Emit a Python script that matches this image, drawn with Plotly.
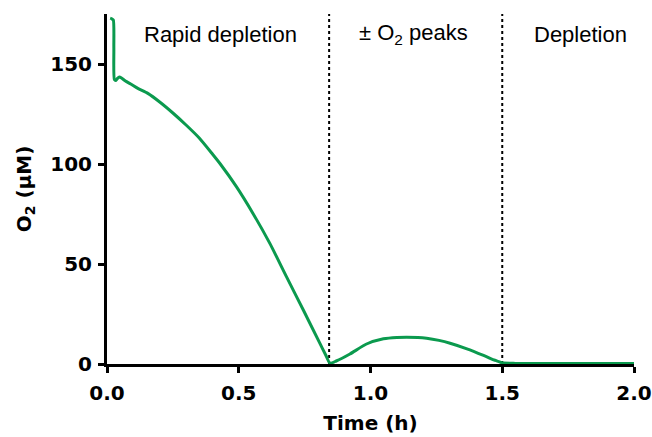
import plotly.graph_objects as go

# Data
time_h = [0.012, 0.018, 0.024, 0.026, 0.028, 0.034, 0.040, 0.047, 0.055, 0.07, 0.09,
          0.117, 0.155, 0.2, 0.25, 0.3, 0.35, 0.4, 0.43, 0.491, 0.554, 0.618, 0.681,
          0.745, 0.808, 0.83, 0.846, 0.87, 0.922, 0.985, 1.049, 1.1, 1.137, 1.18,
          1.213, 1.26, 1.302, 1.366, 1.429, 1.47, 1.499, 1.55, 1.7, 1.85, 2.0]
o2_uM = [172.9, 172.6, 172.0, 158.0, 142.3, 141.8, 142.8, 143.5, 143.0, 141.5, 140.0,
         137.8, 135.3, 131.0, 125.5, 119.5, 113.0, 105.0, 100.0, 88.7, 75.3, 60.3, 43.7,
         27.0, 10.3, 4.5, 0.4, 1.5, 5.0, 10.0, 12.6, 13.3, 13.4, 13.3,
         12.9, 11.8, 10.4, 7.6, 4.3, 2.0, 0.6, 0.3, 0.2, 0.2, 0.2]

phase_bounds = [0.843, 1.5]
phase_labels = ["Rapid depletion", "± O<sub>2</sub> peaks", "Depletion"]
phase_label_x = [0.432, 1.162, 1.797]

x_ticks = [0.0, 0.5, 1.0, 1.5, 2.0]
x_tick_text = ["0.0", "0.5", "1.0", "1.5", "2.0"]
y_ticks = [0, 50, 100, 150]

FONT = "Liberation Sans, Arial, sans-serif"
BOLD_FONT = "DejaVu Sans, sans-serif"

fig = go.Figure()
fig.add_trace(go.Scatter(x=time_h, y=o2_uM, mode="lines",
                         line=dict(color="#0b9a4e", width=3, shape="spline", smoothing=0.6),
                         showlegend=False, hoverinfo="skip", cliponaxis=False))

for xb in phase_bounds:
    fig.add_shape(type="line", x0=xb, x1=xb, y0=0, y1=1, xref="x", yref="paper",
                  line=dict(color="black", width=2, dash="dot"), layer="below")

for lbl, lx in zip(phase_labels, phase_label_x):
    fig.add_annotation(x=lx, y=165, xref="x", yref="y", text=lbl, showarrow=False,
                       font=dict(family=FONT, size=22, color="black"))

fig.update_layout(
    width=652, height=437,
    margin=dict(l=107, r=18, t=14, b=73, autoexpand=False),
    paper_bgcolor="white", plot_bgcolor="white",
    font=dict(family=FONT, color="black"),
)
fig.update_xaxes(range=[0, 2.0], tickvals=x_ticks, ticktext=[f"<b>{t}</b>" for t in x_tick_text],
                 showgrid=False, zeroline=False, showline=True, linecolor="black", linewidth=3,
                 ticks="outside", ticklen=6, tickwidth=3, tickcolor="black", automargin=False,
                 ticklabelstandoff=3,
                 tickfont=dict(family=BOLD_FONT, size=20, color="black"),
                 title=dict(text="<b>Time (h)</b>", font=dict(family=BOLD_FONT, size=20), standoff=12))
fig.update_yaxes(range=[0, 175], tickvals=y_ticks, ticktext=[f"<b>{t}</b>" for t in y_ticks],
                 showgrid=False, zeroline=False, showline=True, linecolor="black", linewidth=3,
                 ticks="outside", ticklen=6, tickwidth=3, tickcolor="black", automargin=False,
                 ticklabelstandoff=2,
                 tickfont=dict(family=BOLD_FONT, size=20, color="black"),
                 title=dict(text="<b>O<sub>2</sub> (μM)</b>", font=dict(family=BOLD_FONT, size=20), standoff=14))

fig.write_html("out.html", config={"displayModeBar": False},
               post_script="document.body.style.margin='0';document.body.style.padding='0';")
